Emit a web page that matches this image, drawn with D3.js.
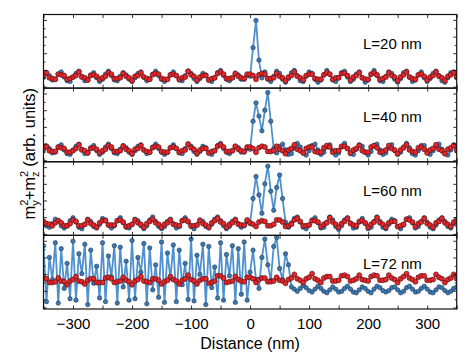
<!DOCTYPE html>
<html>
<head>
<meta charset="utf-8">
<script src="https://cdn.jsdelivr.net/npm/d3@7"></script>
<style>
  body { margin: 0; background: #fff; }
  svg { display: block; font-family: "Liberation Sans", Arial, sans-serif; }
  .axis path.domain { display: none; }
  .axis line { stroke: #000; stroke-width: 0.8; }
  .axis text { font-size: 15px; fill: #000; }
</style>
</head>
<body>
<div id="chart"></div>
<script>
/* Data ***********************************************************************/

// sample positions along the wire (nm)
var distance = d3.range(-350, 351, 5);

var xTicks = [-300, -200, -100, 0, 100, 200, 300],
    xMinorTicks = [-350, -250, -150, -50, 50, 150, 250, 350],
    yTicks = [2, 24.7, 47.4, 70, 92.7],
    yMinorTicks = [13.3, 36, 58.7, 81.3];

var lengths = ['L=20 nm', 'L=40 nm', 'L=60 nm', 'L=72 nm'];

// m_y^2 + m_z^2, arb. units (0 = bottom of panel, 100 = top)
var blue20 = [
  15,20,17,11,12,19,22,15,10,9, 15,20,23,16,10,11,18,21,14,9,
  12,19,23,17,11,10,16,21,18,12, 9,14,20,22,15,10,12,19,23,17,
  12,9,12,18,22,17,11,10,17,23, 20,13,9,13,20,18,11,9,14,21,
  24,17,12,10,14,20,18,12,12,17, 16,55,92,38,14,22,12,9,16,23,
  20,12,8,13,21,24,17,10,9,16, 22,20,12,8,11,18,24,19,11,9,
  14,21,23,15,9,12,19,22,14,8, 11,19,24,17,10,9,16,22,20,12,
  8,13,21,23,15,9,11,18,22,14, 9,13,20,23,17,10,8,14,21,22,15];
var red20 = [
  17,21,14,13,12,19,18,17,12,13, 15,17,22,15,14,11,17,18,16,12,
  14,16,21,19,13,13,14,20,16,14, 10,16,17,21,15,13,12,18,20,19,
  13,12,12,18,19,17,12,14,15,23, 18,16,11,15,17,17,11,13,14,20,
  22,19,13,13,14,20,16,14,13,19, 19,17,12,18,20,19,13,13,14,20,
  16,14,10,15,17,22,16,14,11,17, 19,19,13,12,12,18,21,19,12,14,
  14,20,20,17,11,15,17,21,14,12, 12,19,21,18,12,13,15,21,17,15,
  10,15,18,22,15,13,12,18,19,16, 11,15,17,22,16,14,10,16,18,21,15];

var blue40 = [
  16,21,18,12,13,20,23,16,11,10, 16,21,24,17,11,12,19,22,15,10,
  13,20,24,18,12,11,17,22,19,13, 10,15,21,23,16,11,13,20,24,18,
  13,10,13,19,23,18,12,11,18,24, 21,14,10,14,21,19,12,10,15,22,
  25,18,13,11,15,21,19,13,13,18, 17,55,80,62,42,70,94,55,18,12,
  21,24,16,10,11,19,25,20,12,9, 15,22,24,16,10,13,20,23,15,9,
  12,20,25,18,11,10,17,23,21,13, 9,14,22,24,16,10,12,19,23,15,
  10,13,20,25,19,11,9,15,22,22, 14,10,15,21,24,17,11,9,16,23,18];
var red40 = [
  18,21,15,14,14,20,19,18,13,13, 15,18,23,16,15,12,18,19,17,12,
  15,17,22,20,14,14,15,21,17,15, 11,17,18,22,16,14,13,19,21,20,
  14,13,13,19,20,18,13,15,16,24, 19,17,12,16,18,18,12,14,15,21,
  23,20,14,14,15,21,17,15,14,20, 20,18,13,19,21,20,14,14,15,21,
  17,15,11,16,18,23,17,15,12,18, 20,20,14,13,13,19,22,20,13,15,
  15,21,21,18,12,16,18,22,15,13, 13,20,22,19,13,14,16,22,18,16,
  11,16,19,23,16,14,13,19,20,17, 12,16,18,23,17,15,11,17,19,22,16];

var blue60 = [
  17,13,11,16,22,20,13,10,13,20, 24,18,11,9,15,22,19,12,10,15,
  23,21,14,10,13,20,24,17,11,10, 15,22,20,13,9,13,21,25,19,12,
  9,12,19,22,16,10,12,20,24,18, 12,9,14,21,19,12,10,15,22,25,
  20,13,9,12,19,22,16,11,13,19, 16,50,80,55,30,70,94,60,34,65,
  82,50,18,11,17,23,25,18,11,9, 14,21,24,17,10,11,18,25,21,12,
  8,13,21,24,17,10,11,18,23,16, 9,11,19,25,19,11,9,15,22,20,
  12,9,14,22,24,17,10,12,19,24, 18,11,9,14,21,24,19,12,10,16,22];
var red60 = [
  19,16,15,13,17,20,17,13,13,16, 21,19,13,13,15,21,16,14,11,17,
  20,20,14,14,14,20,21,18,12,13, 15,21,17,15,11,16,19,22,17,15,
  11,15,17,21,15,14,13,20,21,19, 13,13,14,20,16,14,11,17,20,23,
  18,16,11,15,17,21,15,14,14,21, 17,15,12,18,20,19,13,13,15,21,
  21,18,12,13,15,21,23,19,13,13, 14,20,20,18,12,15,17,24,18,15,
  11,16,19,23,16,14,13,19,20,17, 11,15,18,24,17,15,11,17,19,19,
  12,13,15,22,21,18,12,16,18,23, 16,14,11,17,19,23,17,15,12,18,19];

var blue72 = [
  86,10,70,40,90,8,82,28,62,14, 92,12,75,48,88,6,80,35,58,15,
  90,10,72,44,86,8,84,30,65,12, 93,14,70,50,89,7,83,26,60,16,
  91,9,76,42,87,10,80,33,62,13, 95,11,73,47,88,6,85,29,57,15,
  90,12,74,45,86,9,82,20,91,12, 50,80,40,28,70,95,60,39,85,97,
  55,40,75,60,30,27,24,28,32,29, 25,23,27,31,28,24,22,26,30,27,
  23,24,28,31,27,23,22,26,30,28, 24,22,27,31,29,25,23,25,29,30,
  26,22,24,29,31,27,23,24,28,31, 27,23,22,26,30,29,25,22,24,28,30];
var red72 = [
  42,41,36,36,37,42,38,37,33,38, 40,44,38,37,34,39,41,41,36,36,
  36,42,43,41,36,37,38,43,39,37, 33,38,40,44,38,37,36,41,41,39,
  34,37,39,44,40,38,34,39,41,46, 40,38,34,39,41,41,35,36,38,45,
  45,42,36,37,38,44,40,38,37,43, 43,41,36,40,42,42,37,37,38,43,
  39,38,35,40,42,47,41,39,36,41, 43,48,41,39,36,42,44,44,38,38,
  39,45,46,44,38,39,41,46,40,39, 38,44,46,45,39,39,40,46,42,40,
  36,41,44,48,42,40,37,43,45,45, 39,39,40,47,43,41,36,40,42,47,41];

var blueSeries = [blue20, blue40, blue60, blue72],
    redSeries = [red20, red40, red60, red72];

/* Plot ***********************************************************************/

function build_plot()
{
    let width = 471,
        height = 353,
        margin = { top: 14.5, bottom: 44, left: 43.5, right: 14.3 },
        n = lengths.length,
        panel_h = (height - margin.top - margin.bottom) / n,
        tic = 3.5,
        minor_tic = 2;

    let svg = d3.select('#chart').append('svg')
        .attr('width', width)
        .attr('height', height);

    let x = d3.scaleLinear()
        .domain([-350, 350])
        .range([margin.left, width - margin.right]);

    let line = d3.line();

    lengths.forEach((label, p) => {
        let top = margin.top + p * panel_h,
            y = d3.scaleLinear().domain([0, 100]).range([top + panel_h, top]),
            g = svg.append('g');

        svg.append('clipPath').attr('id', 'clip' + p)
            .append('rect')
            .attr('x', x(-350)).attr('y', top)
            .attr('width', x(350) - x(-350)).attr('height', panel_h);

        let data = g.append('g').attr('clip-path', `url(#clip${p})`);

        // series: blue underneath, red on top
        [[blueSeries[p], '#4f90cf', 1.8, '#3b78b2', '#1c3a57', 2.2],
         [redSeries[p],  '#d8262b', 1.0, '#e3262b', '#4a0b0c', 2.5]].forEach(s => {
            let pts = s[0].map((v, i) => [x(distance[i]), y(v)]);
            data.append('path')
                .attr('d', line(pts))
                .attr('fill', 'none')
                .attr('stroke', s[1])
                .attr('stroke-width', s[2]);
            data.selectAll(null).data(pts).enter()
                .append('circle')
                .attr('cx', d => d[0])
                .attr('cy', d => d[1])
                .attr('r', s[5])
                .attr('fill', s[3])
                .attr('stroke', s[4])
                .attr('stroke-width', 0.6);
        });

        // ticks on all four sides, pointing inwards
        [[xTicks, tic], [xMinorTicks, tic]].forEach(t => {
            g.append('g').attr('class', 'axis')
                .attr('transform', `translate(0,${top + panel_h})`)
                .call(d3.axisBottom(x).tickValues(t[0]).tickSize(-t[1]).tickFormat(''));
            g.append('g').attr('class', 'axis')
                .attr('transform', `translate(0,${top})`)
                .call(d3.axisTop(x).tickValues(t[0]).tickSize(-t[1]).tickFormat(''));
        });
        [[yTicks, tic], [yMinorTicks, minor_tic]].forEach(t => {
            g.append('g').attr('class', 'axis')
                .attr('transform', `translate(${x(-350)},0)`)
                .call(d3.axisLeft(y).tickValues(t[0]).tickSize(-t[1]).tickFormat(''));
            g.append('g').attr('class', 'axis')
                .attr('transform', `translate(${x(350)},0)`)
                .call(d3.axisRight(y).tickValues(t[0]).tickSize(-t[1]).tickFormat(''));
        });

        // frame
        g.append('rect')
            .attr('x', x(-350)).attr('y', top)
            .attr('width', x(350) - x(-350)).attr('height', panel_h)
            .attr('fill', 'none')
            .attr('stroke', '#111')
            .attr('stroke-width', 1.2);

        // panel label
        g.append('text')
            .attr('x', 363)
            .attr('y', top + 34)
            .attr('font-size', 15)
            .text(label);
    });

    // x tick labels on the bottom panel
    svg.append('g').attr('class', 'axis')
        .attr('transform', `translate(0,${height - margin.bottom})`)
        .call(d3.axisBottom(x).tickValues(xTicks).tickSize(0).tickPadding(9));

    // x label
    svg.append('text')
        .attr('x', x(0))
        .attr('y', 348.5)
        .attr('text-anchor', 'middle')
        .attr('font-size', 16)
        .text('Distance (nm)');

    // y label: m_y^2 + m_z^2 (arb. units)
    let yl = svg.append('text')
        .attr('transform', `translate(35,${margin.top + 2 * panel_h - 8}) rotate(-90)`)
        .attr('text-anchor', 'middle')
        .attr('font-size', 16.5);
    yl.append('tspan').text('m');
    yl.append('tspan').attr('font-size', 11).attr('dy', -7).text('2');
    yl.append('tspan').attr('font-size', 11).attr('dx', -6.1).attr('dy', 11).text('y');
    yl.append('tspan').attr('dy', -4).text('+m');
    yl.append('tspan').attr('font-size', 11).attr('dy', -7).text('2');
    yl.append('tspan').attr('font-size', 11).attr('dx', -6.1).attr('dy', 11).text('z');
    yl.append('tspan').attr('dy', -4).text(' (arb. units)');
}

build_plot();
</script>
</body>
</html>
